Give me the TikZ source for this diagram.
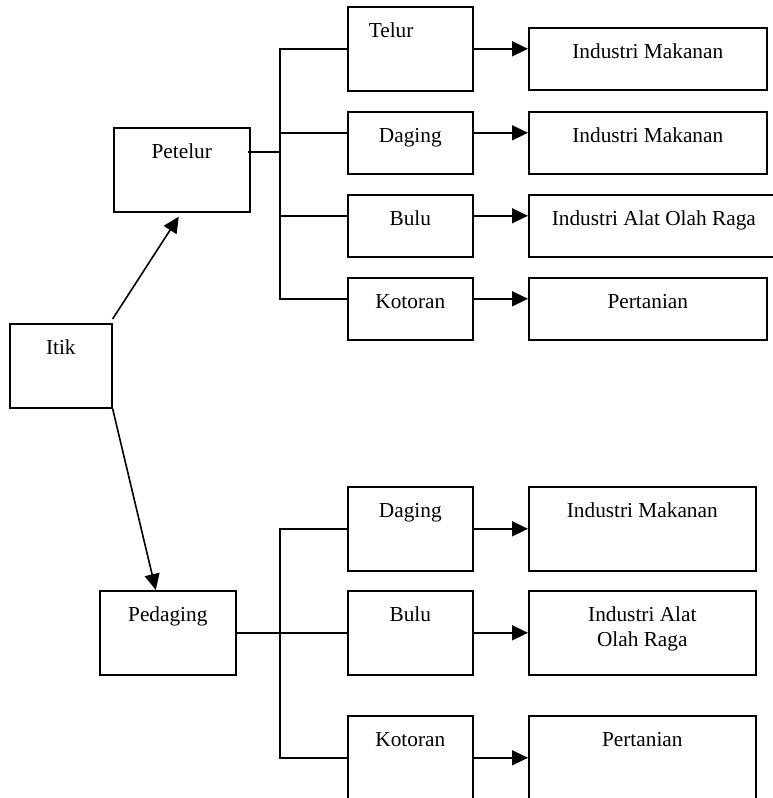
\documentclass[tikz,border=0pt]{standalone}
\usepackage{fontspec}
\setmainfont{Liberation Serif}
\usetikzlibrary{arrows.meta,positioning}

\begin{document}
\begin{tikzpicture}[x=1pt, y=-1pt, >={Triangle[length=16pt,width=15pt]}, line width=1.6pt,
        box/.style={draw, inner sep=0pt, anchor=north west, text height=31pt,
                font=\fontsize{21.3}{25}\selectfont},
        tall/.style={minimum height=84pt, text depth=53pt},
        short/.style={minimum height=62pt, text depth=31pt}]
                \useasboundingbox (0,0) rectangle (773,798);

                \node[box, tall, minimum width=102] (itik) at (9,323) {Itik};
                \node[box, tall, minimum width=136] (petelur) at (113,127) {Petelur};
                \node[box, tall, minimum width=136] (pedaging) at (99,590) {Pedaging};

                % petelur
                \node[box, tall, inner xsep=21pt, text width=83pt, align=left] (telur) at (347,6) {Telur};
                \node[box, short, minimum width=125] (dagingA) at (347,111) {Daging};
                \node[box, short, minimum width=125] (buluA) at (347,194) {Bulu};
                \node[box, short, minimum width=125] (kotoranA) at (347,277) {Kotoran};

                \node[box, short, minimum width=238] (makananA) at (528,27) {Industri Makanan};
                \node[box, short, minimum width=238] (makananB) at (528,111) {Industri Makanan};
                \node[box, short, minimum width=250] (olahragaA) at (528,194) {Industri Alat Olah Raga};
                \node[box, short, minimum width=238] (pertanianA) at (528,277) {Pertanian};

                % pedaging
                \node[box, tall, minimum width=125] (dagingB) at (347,486) {Daging};
                \node[box, tall, minimum width=125] (buluB) at (347,590) {Bulu};
                \node[box, tall, minimum width=125] (kotoranB) at (347,715) {Kotoran};

                \node[box, tall, minimum width=227] (makananC) at (528,486) {Industri Makanan};
                \node[box, minimum height=84pt, text height=56pt, text depth=28pt, minimum width=227,
                        align=center] (olahragaB) at (528,590) {Industri Alat\\Olah Raga};
                \node[box, tall, minimum width=227] (pertanianB) at (528,715) {Pertanian};

                \coordinate (trunkA) at (280,152);
                \coordinate (trunkB) at (280,632);

                \draw[->] ([yshift=4pt]itik.north east) -- ([xshift=-3pt,yshift=-4pt]petelur.south);
                \draw[->] (itik.south east) -- ([xshift=-12pt]pedaging.north);

                \draw ([xshift=-3pt]petelur.east |- trunkA) -- (trunkA);
                \draw (telur.west) -| (trunkA) |- ([yshift=10pt]kotoranA.west);
                \draw ([yshift=10pt]dagingA.west) -- ([yshift=10pt]dagingA.west -| trunkA);
                \draw ([yshift=10pt]buluA.west) -- ([yshift=10pt]buluA.west -| trunkA);

                \draw[->] (telur.east) -- (telur.east -| makananA.west);
                \draw[->] ([yshift=10pt]dagingA.east) -- ([yshift=10pt]dagingA.east -| makananB.west);
                \draw[->] ([yshift=10pt]buluA.east) -- ([yshift=10pt]buluA.east -| olahragaA.west);
                \draw[->] ([yshift=10pt]kotoranA.east) -- ([yshift=10pt]kotoranA.east -| pertanianA.west);

                \draw (pedaging.east) -- (buluB.west);
                \draw (dagingB.west) -| (trunkB) |- (kotoranB.west);

                \draw[->] (dagingB.east) -- (makananC.west);
                \draw[->] (buluB.east) -- (olahragaB.west);
                \draw[->] (kotoranB.east) -- (pertanianB.west);
            \end{tikzpicture}
\end{document}
